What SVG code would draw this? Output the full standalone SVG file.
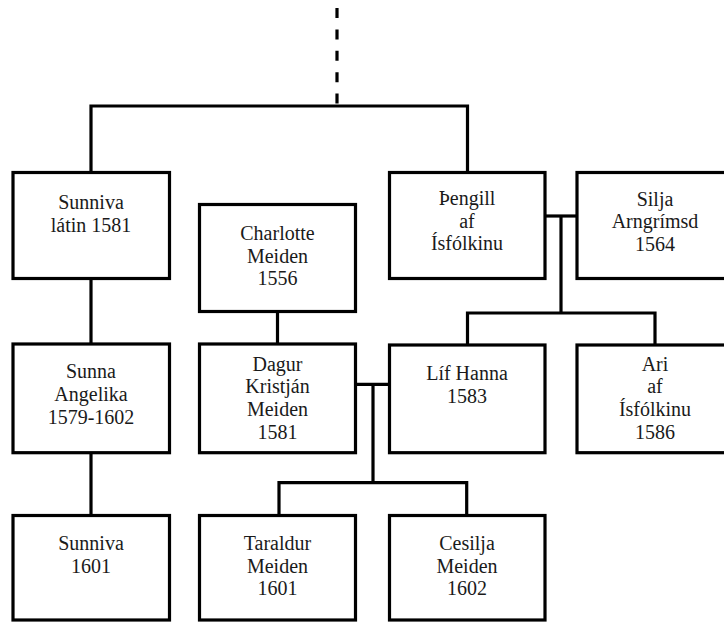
<svg xmlns="http://www.w3.org/2000/svg" width="724" height="623" viewBox="0 0 724 623">
<style>
.box{fill:#fff;stroke:#000;stroke-width:3.2}
.ln{fill:none;stroke:#000;stroke-width:3.2;stroke-linejoin:miter;stroke-linecap:butt}
.dash{fill:none;stroke:#000;stroke-width:3.2;stroke-dasharray:10 11.4}
.t text{font-family:'Liberation Serif',Tinos,'Noto Serif','DejaVu Serif','Times New Roman',Times,FreeSerif,Georgia,serif;font-size:20px;fill:#1a1a1a;text-anchor:middle}
</style>
<rect width="724" height="623" fill="#fff"/>
<g id="connectors">
<path class="dash" d="M337 8 V106"/>
<path class="ln" d="M91 172.5 V106 H467.5 V172.5"/>
<path class="ln" d="M91 278.5 V344"/>
<path class="ln" d="M91 452.7 V515.5"/>
<path class="ln" d="M277.5 311.7 V344"/>
<path class="ln" d="M545 216 H577"/>
<path class="ln" d="M561 216 V313"/>
<path class="ln" d="M467.5 345 V313 H655 V345"/>
<path class="ln" d="M355.5 384.3 H389.5"/>
<path class="ln" d="M373 384.3 V482.7"/>
<path class="ln" d="M279 515.5 V482.7 H466.7 V515.5"/>
</g>
<g class="t">
<g id="sunniva1581">
<rect class="box" x="13" y="172.5" width="156.5" height="106"/>
<text x="91" y="209">Sunniva</text>
<text x="91" y="232">látin 1581</text>
</g>
<g id="charlotte">
<rect class="box" x="199.5" y="204.5" width="156" height="107"/>
<text x="277.5" y="240">Charlotte</text>
<text x="277.5" y="262.5">Meiden</text>
<text x="277.5" y="285">1556</text>
</g>
<g id="thengill">
<rect class="box" x="389.5" y="172.5" width="155.5" height="106"/>
<text x="467" y="205">Þengill</text>
<text x="467" y="227.5">af</text>
<text x="467" y="250">Ísfólkinu</text>
</g>
<g id="silja">
<rect class="box" x="577" y="172.5" width="156" height="106"/>
<text x="655" y="205.5">Silja</text>
<text x="655" y="228">Arngrímsd</text>
<text x="655" y="250.5">1564</text>
</g>
<g id="sunna">
<rect class="box" x="13" y="344" width="156.5" height="108.7"/>
<text x="91" y="378.3">Sunna</text>
<text x="91" y="401">Angelika</text>
<text x="91" y="423.5">1579-1602</text>
</g>
<g id="dagur">
<rect class="box" x="199.5" y="344" width="156" height="108.7"/>
<text x="277.5" y="370.5">Dagur</text>
<text x="277.5" y="393">Kristján</text>
<text x="277.5" y="415.5">Meiden</text>
<text x="277.5" y="438.5">1581</text>
</g>
<g id="lif">
<rect class="box" x="389.5" y="345" width="155.5" height="107.7"/>
<text x="467" y="380">Líf Hanna</text>
<text x="467" y="402.5">1583</text>
</g>
<g id="ari">
<rect class="box" x="577" y="345" width="156" height="107.7"/>
<text x="655" y="370.5">Ari</text>
<text x="655" y="393">af</text>
<text x="655" y="415.5">Ísfólkinu</text>
<text x="655" y="438.5">1586</text>
</g>
<g id="sunniva1601">
<rect class="box" x="13" y="515.5" width="156.5" height="104.5"/>
<text x="91" y="550">Sunniva</text>
<text x="91" y="572.5">1601</text>
</g>
<g id="taraldur">
<rect class="box" x="199.5" y="515.5" width="156" height="104.5"/>
<text x="277.5" y="550">Taraldur</text>
<text x="277.5" y="572.5">Meiden</text>
<text x="277.5" y="595">1601</text>
</g>
<g id="cesilja">
<rect class="box" x="389.5" y="515.5" width="155.5" height="104.5"/>
<text x="467" y="550">Cesilja</text>
<text x="467" y="572.5">Meiden</text>
<text x="467" y="595">1602</text>
</g>
</g>
</svg>
